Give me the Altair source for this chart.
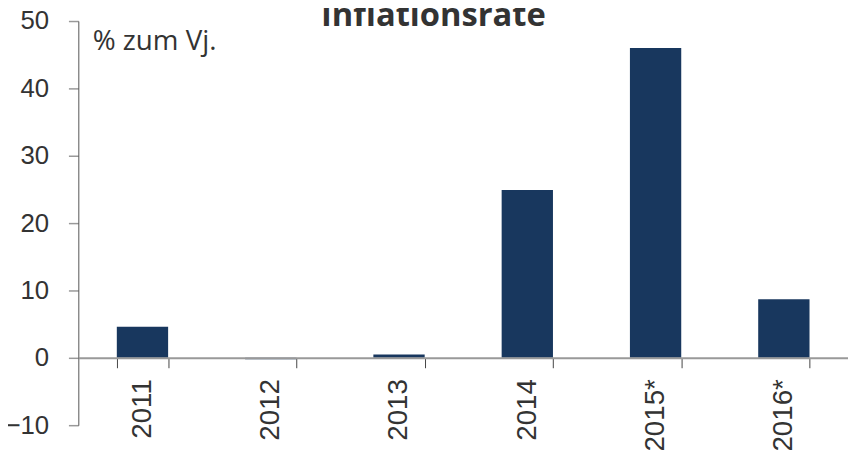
import altair as alt
import pandas as pd

years = ["2011", "2012", "2013", "2014", "2015*", "2016*"]
rates = [4.6, -0.2, 0.5, 24.9, 46.0, 8.7]
y_ticks = [-10, 0, 10, 20, 30, 40, 50]

df = pd.DataFrame({"Jahr": years, "Rate": rates})

chart = alt.Chart(df).mark_bar(color="#18375e").encode(
    x=alt.X(
        "Jahr:N",
        sort=years,
        scale=alt.Scale(paddingInner=0.6, paddingOuter=0.3),
        axis=alt.Axis(
            title="Inflationsrate",
            titleFont="Open Sans",
            titleFontSize=33,
            titleFontWeight="bold",
            titleColor="#333333",
            titleAngle=0,
            titleAlign="center",
            titleBaseline="alphabetic",
            titleX=358,
            titleY=-335,
            offset=-68,
            tickBand="extent",
            labelAngle=270,
            labelFont="Liberation Sans",
            labelFontSize=28,
            labelColor="#333333",
            labelPadding=11,
            tickSize=10,
            tickColor="#444444",
            tickWidth=1,
            domainColor="#999999",
            domainWidth=2,
            zindex=1,
        ),
    ),
    y=alt.Y(
        "Rate:Q",
        scale=alt.Scale(domain=[-10, 50], nice=False, zero=False),
        axis=alt.Axis(
            values=y_ticks,
            grid=False,
            title="% zum Vj.",
            titleAngle=0,
            titleAlign="left",
            titleBaseline="alphabetic",
            titleX=14,
            titleY=29,
            titleFont="Open Sans",
            titleFontSize=28,
            titleFontWeight="normal",
            titleColor="#333333",
            labelFont="Liberation Sans",
            labelFontSize=26,
            labelColor="#333333",
            labelPadding=20,
            tickSize=10,
            tickColor="#999999",
            tickWidth=1.5,
            domainColor="#555555",
            domainWidth=1,
        ),
    ),
).properties(
    width=777,
    height=408,
    autosize="none",
    padding={"left": 71, "top": 11, "right": 0, "bottom": 33},
).configure_view(stroke=None)

chart.save("out.html", embed_options={"renderer": "svg", "actions": False})
